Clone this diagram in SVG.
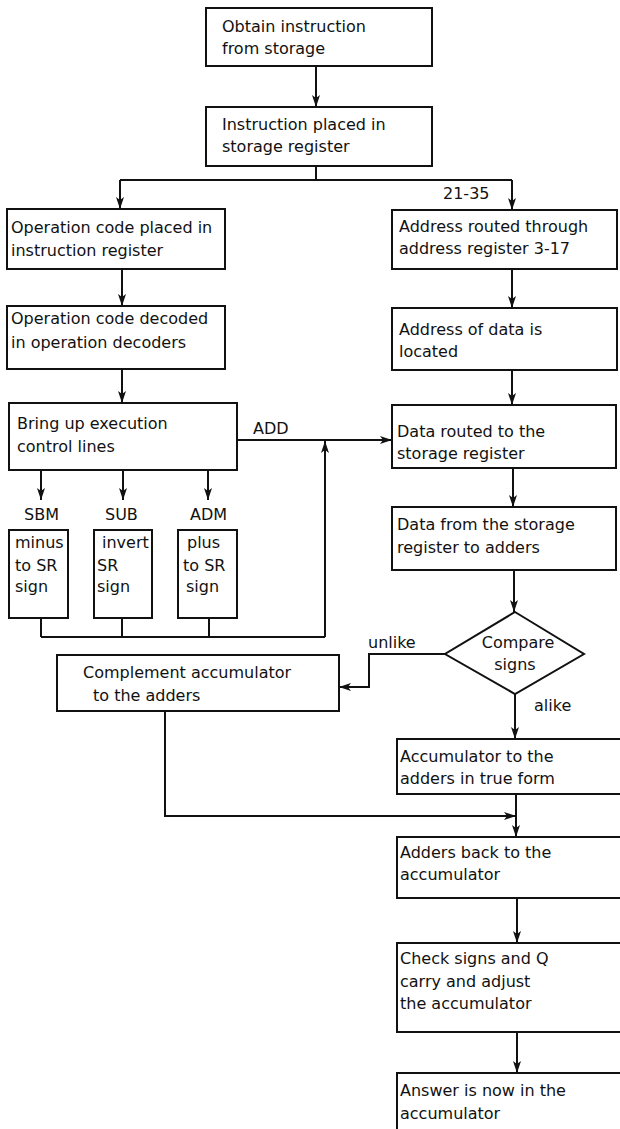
<svg xmlns="http://www.w3.org/2000/svg" width="620" height="1129" viewBox="0 0 620 1129">
<style>
.box{fill:#fff;stroke:#111;stroke-width:2}
.t{font-family:"DejaVu Sans",sans-serif;font-size:16px;fill:#111}
.c{fill:none;stroke:#111;stroke-width:2}
.a{fill:none;stroke:#111;stroke-width:2;marker-end:url(#ah)}
</style>
<defs>
<marker id="ah" markerUnits="userSpaceOnUse" markerWidth="13" markerHeight="9" refX="12" refY="4.5" orient="auto">
<path d="M0,0.5 L12,4.5 L0,8.5 L3,4.5 Z" fill="#111"/>
</marker>
</defs>
<rect width="620" height="1129" fill="#fff"/>

<g id="connectors">
<path class="a" d="M316,66 V107"/>
<path class="c" d="M316,166 V180 M120,180 H512"/>
<path class="a" d="M120,180 V209"/>
<path class="a" d="M512,180 V210"/>
<path class="a" d="M122,269 V306"/>
<path class="a" d="M512,269 V308"/>
<path class="a" d="M122,369 V403"/>
<path class="a" d="M512,370 V405"/>
<path class="a" d="M237,440 H392"/>
<path class="a" d="M41,470 V500"/>
<path class="a" d="M123,470 V500"/>
<path class="a" d="M208,470 V500"/>
<path class="c" d="M41,618 V637 M122,618 V637 M209,618 V637 M41,637 H325"/>
<path class="a" d="M325,637 V441"/>
<path class="a" d="M513,468 V507"/>
<path class="a" d="M514,570 V612"/>
<path class="a" d="M445,654 H369 V687 H339"/>
<path class="a" d="M515,694 V739"/>
<path class="a" d="M165,711 V816 H516"/>
<path class="a" d="M516,794 V837"/>
<path class="a" d="M517,898 V943"/>
<path class="a" d="M517,1032 V1073"/>
<text class="t" x="443" y="199">21-35</text>
<text class="t" x="253" y="434">ADD</text>
<text class="t" x="24" y="520">SBM</text>
<text class="t" x="105" y="520">SUB</text>
<text class="t" x="190" y="520">ADM</text>
<text class="t" x="368" y="648">unlike</text>
<text class="t" x="534" y="711">alike</text>
</g>

<g id="n1"><rect class="box" x="206" y="8" width="226" height="58"/>
<text class="t" x="222" y="32">Obtain instruction</text><text class="t" x="222" y="54">from storage</text></g>

<g id="n2"><rect class="box" x="206" y="107" width="226" height="59"/>
<text class="t" x="222" y="130">Instruction placed in</text><text class="t" x="222" y="152">storage register</text></g>

<g id="n3"><rect class="box" x="7" y="209" width="218" height="60"/>
<text class="t" x="11" y="233">Operation code placed in</text><text class="t" x="11" y="256">instruction register</text></g>

<g id="n4"><rect class="box" x="392" y="210" width="225" height="59"/>
<text class="t" x="399" y="232">Address routed through</text><text class="t" x="399" y="254">address register 3-17</text></g>

<g id="n5"><rect class="box" x="7" y="306" width="218" height="63"/>
<text class="t" x="11" y="324">Operation code decoded</text><text class="t" x="11" y="348">in operation decoders</text></g>

<g id="n6"><rect class="box" x="392" y="308" width="225" height="62"/>
<text class="t" x="399" y="335">Address of data is</text><text class="t" x="399" y="357">located</text></g>

<g id="n7"><rect class="box" x="9" y="403" width="228" height="67"/>
<text class="t" x="17" y="429">Bring up execution</text><text class="t" x="17" y="452">control lines</text></g>

<g id="n8"><rect class="box" x="392" y="405" width="224" height="63"/>
<text class="t" x="397" y="437">Data routed to the</text><text class="t" x="397" y="459">storage register</text></g>

<g id="n9"><rect class="box" x="9" y="530" width="59" height="88"/>
<text class="t" x="15" y="548">minus</text><text class="t" x="15" y="571">to SR</text><text class="t" x="15" y="592">sign</text></g>

<g id="n10"><rect class="box" x="94" y="530" width="58" height="88"/>
<text class="t" x="102" y="548">invert</text><text class="t" x="97" y="571">SR</text><text class="t" x="97" y="592">sign</text></g>

<g id="n11"><rect class="box" x="178" y="530" width="59" height="88"/>
<text class="t" x="187" y="548">plus</text><text class="t" x="183" y="571">to SR</text><text class="t" x="186" y="592">sign</text></g>

<g id="n12"><rect class="box" x="392" y="507" width="224" height="63"/>
<text class="t" x="397" y="530">Data from the storage</text><text class="t" x="397" y="553">register to adders</text></g>

<g id="n13"><path class="box" d="M515,612 L584,654 L515,694 L445,654 Z"/>
<text class="t" x="518" y="648" text-anchor="middle">Compare</text><text class="t" x="515" y="670" text-anchor="middle">signs</text></g>

<g id="n14"><rect class="box" x="57" y="655" width="282" height="56"/>
<text class="t" x="83" y="678">Complement accumulator</text><text class="t" x="93" y="701">to the adders</text></g>

<g id="n15"><rect class="box" x="397" y="739" width="230" height="55"/>
<text class="t" x="400" y="762">Accumulator to the</text><text class="t" x="400" y="784">adders in true form</text></g>

<g id="n16"><rect class="box" x="397" y="837" width="230" height="61"/>
<text class="t" x="400" y="858">Adders back to the</text><text class="t" x="400" y="880">accumulator</text></g>

<g id="n17"><rect class="box" x="397" y="943" width="230" height="89"/>
<text class="t" x="400" y="964">Check signs and Q</text><text class="t" x="400" y="987">carry and adjust</text><text class="t" x="400" y="1009">the accumulator</text></g>

<g id="n18"><rect class="box" x="397" y="1073" width="230" height="70"/>
<text class="t" x="400" y="1096">Answer is now in the</text><text class="t" x="400" y="1119">accumulator</text></g>
</svg>
